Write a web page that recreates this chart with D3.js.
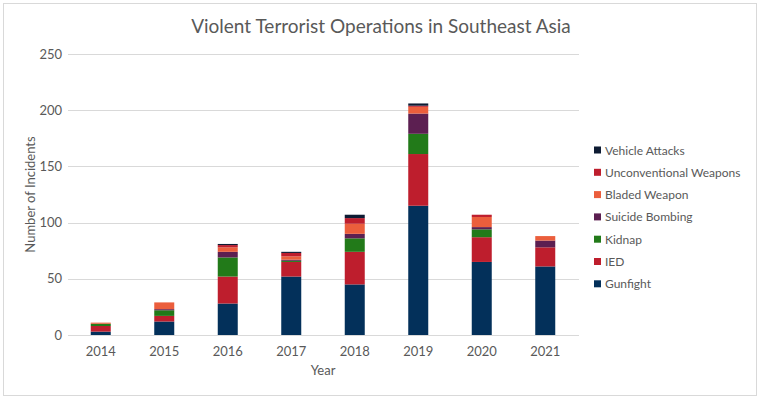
<!DOCTYPE html>
<html lang="en">
<head>
    <style>
        body { margin: 0; background: #fff; }
        svg { display: block; }
        text { font-family: Lato, "Open Sans", sans-serif; fill: #595959; }
    </style>
</head>
<body>
    <svg width="762" height="399"></svg>
    <script src="https://cdn.jsdelivr.net/npm/d3@7/dist/d3.min.js"></script>
    <script>
        // Data
        const years = ["2014", "2015", "2016", "2017", "2018", "2019", "2020", "2021"];
        const gunfight      = [3, 12, 28, 52, 45, 115, 65, 61];
        const ied           = [5, 5, 24, 13, 29, 46, 22, 17];
        const kidnap        = [2, 5, 17, 1, 12, 18, 7, 0];
        const suicide       = [0, 1, 5, 1, 4, 18, 2, 6];
        const bladed        = [1, 6, 4, 3, 9, 6, 9, 4];
        const unconv        = [0, 0, 2, 3, 5, 1, 2, 0];
        const vehicle       = [0, 0, 1, 1, 3, 2, 0, 0];
        const seriesNames = ["Gunfight", "IED", "Kidnap", "Suicide Bombing", "Bladed Weapon", "Unconventional Weapons", "Vehicle Attacks"];
        const yTicks = [0, 50, 100, 150, 200, 250];

        const colors = ["#03305a", "#be1e2d", "#227a19", "#5c1f51", "#eb5e3c", "#be1e2d", "#0d1b33"];
        const seriesValues = [gunfight, ied, kidnap, suicide, bladed, unconv, vehicle];

        const table = years.map((yr, i) => {
            const row = { year: yr };
            seriesNames.forEach((s, j) => row[s] = seriesValues[j][i]);
            return row;
        });

        const svg = d3.select("svg");

        // Outer frame
        svg.append("rect")
            .attr("x", 3.5).attr("y", 3.5).attr("width", 753).attr("height", 392)
            .style("fill", "#fff").style("stroke", "#d9d9d9");

        const plotLeft = 69, plotRight = 577, plotTop = 54, plotBottom = 335;

        const x = d3.scaleBand().domain(years).range([plotLeft, plotRight]).padding(0);
        const y = d3.scaleLinear().domain([0, 250]).range([plotBottom, plotTop]);

        // Gridlines
        svg.append("g").selectAll("line").data(yTicks.slice(1)).enter()
            .append("line")
            .attr("x1", plotLeft - 1).attr("x2", plotRight + 2)
            .attr("y1", d => Math.round(y(d)) + 0.5).attr("y2", d => Math.round(y(d)) + 0.5)
            .style("stroke", "#d9d9d9").style("stroke-width", 1);

        // Y tick labels
        svg.append("g").selectAll("text").data(yTicks).enter()
            .append("text")
            .attr("x", 62).attr("y", d => y(d) + 4.5)
            .attr("text-anchor", "end")
            .style("font-size", "13px")
            .text(d => d);

        // Stacked bars
        const stack = d3.stack().keys(seriesNames)(table);
        const barW = x.bandwidth() * 0.315;
        svg.append("g").selectAll("g").data(stack).enter()
            .append("g")
            .style("fill", (d, i) => colors[i])
            .selectAll("rect").data(d => d).enter()
            .append("rect")
            .attr("x", d => x(d.data.year) + (x.bandwidth() - barW) / 2)
            .attr("width", barW)
            .attr("y", d => y(d[1]))
            .attr("height", d => y(d[0]) - y(d[1]));

        // Baseline
        svg.append("line")
            .attr("x1", plotLeft - 1).attr("x2", plotRight + 2)
            .attr("y1", plotBottom + 0.5).attr("y2", plotBottom + 0.5)
            .style("stroke", "#d9d9d9").style("stroke-width", 1);

        // X tick labels
        svg.append("g").selectAll("text").data(years).enter()
            .append("text")
            .attr("x", d => x(d) + x.bandwidth() / 2).attr("y", 356)
            .attr("text-anchor", "middle")
            .style("font-size", "13px")
            .text(d => d);

        // Axis titles
        svg.append("text")
            .attr("x", (plotLeft + plotRight) / 2).attr("y", 375)
            .attr("text-anchor", "middle")
            .style("font-size", "13px")
            .text("Year");

        svg.append("text")
            .attr("transform", `translate(35, ${(plotTop + plotBottom) / 2}) rotate(-90)`)
            .attr("text-anchor", "middle")
            .style("font-size", "13px")
            .text("Number of Incidents");

        // Title
        svg.append("text")
            .attr("x", 381).attr("y", 33)
            .attr("text-anchor", "middle")
            .style("font-size", "19px")
            .text("Violent Terrorist Operations in Southeast Asia");

        // Legend (reverse order, top = last series)
        const legend = svg.append("g").selectAll("g").data(seriesNames.slice().reverse()).enter()
            .append("g")
            .attr("transform", (d, i) => `translate(594, ${150 + i * 22.3})`);
        legend.append("rect")
            .attr("x", 0).attr("y", -3.5).attr("width", 7).attr("height", 7)
            .style("fill", d => colors[seriesNames.indexOf(d)]);
        legend.append("text")
            .attr("x", 11).attr("y", 4.5)
            .style("font-size", "12px")
            .text(d => d);
    </script>
</body>
</html>
